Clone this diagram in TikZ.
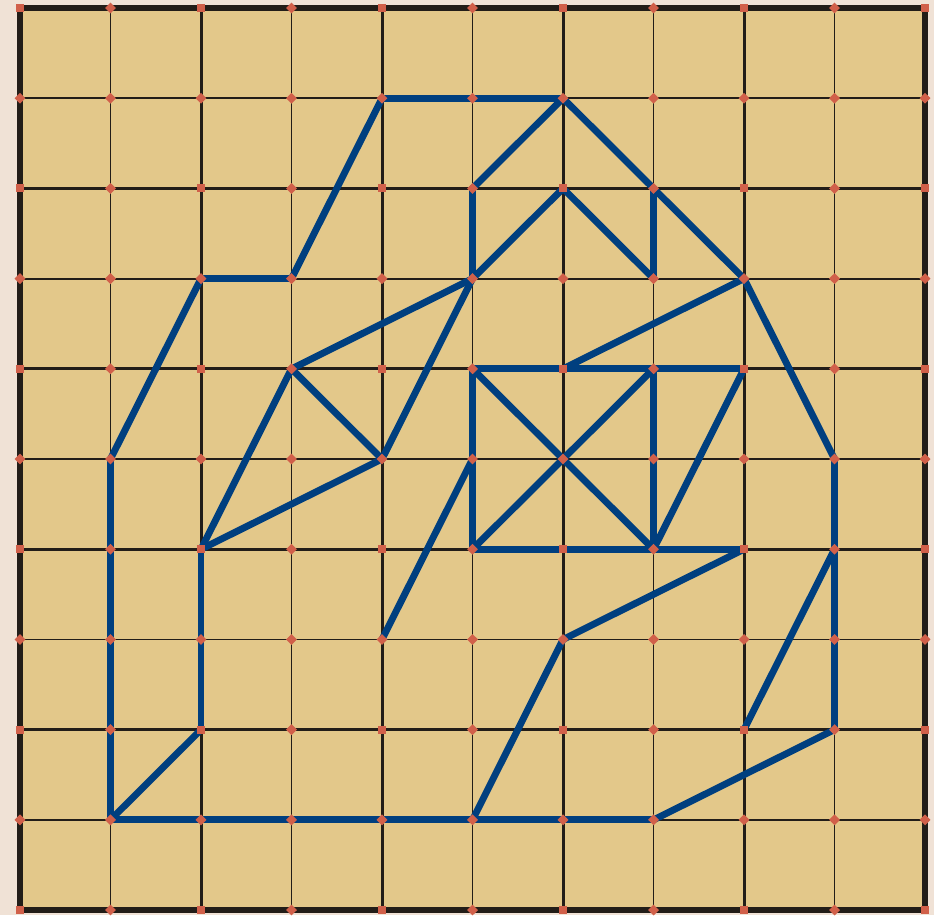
\documentclass[tikz,border=0pt]{standalone}
\usepackage{tikz}

\definecolor{paper}{HTML}{F0E2D6}
\definecolor{board}{HTML}{E3C88A}
\definecolor{ink}{HTML}{221D18}
\definecolor{route}{HTML}{003F7F}
\definecolor{peg}{HTML}{D1604A}

\begin{document}
\begin{tikzpicture}[x=1.81cm, y=1.804cm,
  thinline/.style={draw=ink, line width=1pt},
  thickline/.style={draw=ink, line width=1.7pt},
  frame/.style={draw=ink, line width=3.8pt},
  trail/.style={draw=route, line width=3.9pt, line cap=round, line join=round}]
% Background
\fill[paper] (-0.221,-0.055) rectangle (10.099,10.089);
\useasboundingbox (-0.221,-0.055) rectangle (10.099,10.089);
\fill[board] (0,0) rectangle (10,10);

% Grid points
\foreach \i in {0,...,10}
  \foreach \j in {0,...,10}
    \coordinate (p\i-\j) at (\i,10-\j);

% Grid lines
\foreach \k in {1,3,...,9} {
  \draw[thinline] (p\k-0) -- (p\k-10);
  \draw[thinline] (p0-\k) -- (p10-\k);
}
\foreach \k in {2,4,...,8} {
  \draw[thickline] (p\k-0) -- (p\k-10);
  \draw[thickline] (p0-\k) -- (p10-\k);
}
\draw[frame] (p0-0) rectangle (p10-10);

% Route
\foreach \a/\b in {4-1/6-1, 4-1/3-3, 3-3/2-3, 2-3/1-5, 1-5/1-9, 1-9/7-9,
    1-9/2-8, 2-8/2-6, 2-6/3-4, 2-6/4-5, 3-4/4-5, 3-4/5-3, 4-5/5-3,
    5-3/5-2, 5-2/6-1, 6-1/8-3, 5-3/6-2, 6-2/7-3, 7-2/7-3, 8-3/6-4,
    8-3/9-5, 9-5/9-8, 9-8/7-9, 9-6/8-8, 5-4/8-4, 5-4/5-6, 5-6/8-6,
    7-4/7-6, 5-4/7-6, 7-4/5-6, 8-4/7-6, 5-5/4-7, 8-6/6-7, 6-7/5-9}
  \draw[trail] (p\a) -- (p\b);

% Pegs
\foreach \i in {0,...,10}
  \foreach \j in {0,...,10} {
    \pgfmathtruncatemacro\kind{mod(\i,2)+mod(\j,2)}
    \ifnum\kind=0
      \fill[peg, shift={(p\i-\j)}] (-0.045,-0.045) rectangle (0.045,0.045);
    \else
      \fill[peg, shift={(p\i-\j)}] (0,0.06) -- (0.06,0) -- (0,-0.06) -- (-0.06,0) -- cycle;
    \fi
  }
\end{tikzpicture}
\end{document}
